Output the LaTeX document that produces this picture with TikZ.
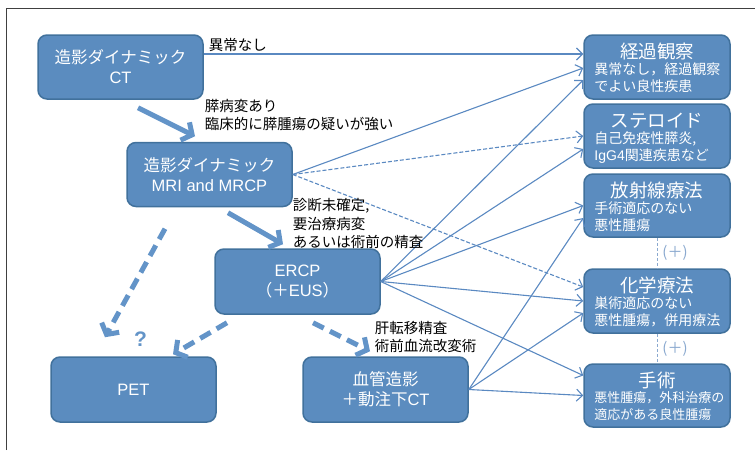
\documentclass[tikz,border=0pt]{standalone}
\usepackage{fontspec}
\setmainfont{Noto Sans CJK JP}
\newfontfamily\lat{Liberation Sans}
\usetikzlibrary{arrows.meta,calc}
\definecolor{boxfill}{HTML}{5B8CBF}
\definecolor{boxline}{HTML}{41719C}
\definecolor{arrowc}{HTML}{5A89C1}
\definecolor{thickc}{HTML}{6394C8}
\definecolor{pluscol}{HTML}{8AA9CF}
\definecolor{framec}{HTML}{404040}
\begin{document}
\begin{tikzpicture}[x=1pt,y=-1pt,
  box/.style={draw=boxline, fill=boxfill, line width=1.5pt, rounded corners=9pt,
    minimum width=165pt, minimum height=64pt, text=white,
    font=\fontsize{16.5}{20}\selectfont, align=center, inner sep=0pt},
  rbox/.style={box, minimum width=146pt},
  rtitle/.style={text=white, font=\fontsize{18.5}{20}\selectfont, inner sep=0pt},
  rsub/.style={text=white, font=\fontsize{14}{17}\selectfont, align=left, inner sep=0pt, anchor=north west},
  thin/.style={draw=arrowc, line width=1.1pt, -{Straight Barb[length=6pt,width=12pt]}},
  thindash/.style={thin, dash pattern=on 4pt off 2pt},
  thick/.style={draw=thickc, line width=5pt, -{Straight Barb[length=8pt,width=20pt]}},
  thickdash/.style={thick, dash pattern=on 12pt off 7pt},
  lab/.style={font=\fontsize{14.5}{18.5}\selectfont, align=left, inner sep=0pt, anchor=north west},
  plusdash/.style={draw=pluscol, line width=1pt, dash pattern=on 3pt off 2pt},
  pluslab/.style={text=pluscol, font=\fontsize{15}{16}\selectfont, inner sep=0pt},
]
\useasboundingbox (0,0) rectangle (755,450);
\draw[framec, line width=0.8pt] (6,450) -- (6,8) -- (755,8);

% left boxes
\node[box] (ct) at (120.5,67) {造影ダイナミック\\{\lat CT}};
\node[box] (mri) at (209.5,174.5) {造影ダイナミック\\{\lat MRI and MRCP}};
\node[box, minimum height=65pt] (ercp) at (297.5,281.5) {{\lat ERCP}\\（＋{\lat EUS}）};
\node[box, minimum height=65pt] (pet) at (133.5,389.5) {{\lat PET}};
\node[box, minimum height=65pt] (angio) at (385.5,389.5) {血管造影\\＋動注下{\lat CT}};

% right boxes
\node[rbox] (keika) at (657,67) {};
\node[rbox] (steroid) at (657,136) {};
\node[rbox, minimum height=63pt] (rad) at (657,205.5) {};
\node[rbox] (chemo) at (657,301) {};
\node[rbox, minimum height=63pt] (surg) at (657,395.5) {};

\node[rtitle] (t1) at ([yshift=-17pt]keika.north) {経過観察};
\node[rsub] (s1) at ([xshift=11pt,yshift=-28pt]keika.north west) {異常なし，経過観察\\でよい良性疾患};
\node[rtitle] (t2) at ([yshift=-17pt]steroid.north) {ステロイド};
\node[rsub] (s2) at ([xshift=11pt,yshift=-28pt]steroid.north west) {自己免疫性膵炎,\\{\lat IgG4}関連疾患など};
\node[rtitle] (t3) at ([yshift=-17pt]rad.north) {放射線療法};
\node[rsub] (s3) at ([xshift=11pt,yshift=-28pt]rad.north west) {手術適応のない\\悪性腫瘍};
\node[rtitle] (t4) at ([yshift=-17pt]chemo.north) {化学療法};
\node[rsub] (s4) at ([xshift=11pt,yshift=-28pt]chemo.north west) {巣術適応のない\\悪性腫瘍，併用療法};
\node[rtitle] (t5) at ([yshift=-17pt]surg.north) {手術};
\node[rsub, font=\fontsize{13}{17}\selectfont] (s5) at ([xshift=11pt,yshift=-28pt]surg.north west) {悪性腫瘍，外科治療の\\適応がある良性腫瘍};

% (+) connectors
\draw[plusdash] (rad.south) -- (chemo.north);
\draw[plusdash] (chemo.south) -- (surg.north);
\node[pluslab] (p1) at ($(rad.south)!0.5!(chemo.north)+(18,0)$) {(＋)};
\node[pluslab] (p2) at ($(chemo.south)!0.5!(surg.north)+(18,0)$) {(＋)};

% thin arrows
\draw[thin] ([yshift=13pt]ct.east) -- ([yshift=13pt]keika.west);
\draw[thin] (mri.east) -- ([yshift=-1pt]keika.west);
\draw[thindash] (mri.east) -- (steroid.west);
\draw[thindash] (mri.east) -- ([yshift=14pt]chemo.west);
\draw[thin] (ercp.east) -- ([yshift=-13pt]keika.west);
\draw[thin] (ercp.east) -- ([yshift=-13pt]steroid.west);
\draw[thin] (ercp.east) -- (rad.west);
\draw[thin] (ercp.east) -- (chemo.west);
\draw[thin] (ercp.east) -- ([yshift=20pt]surg.west);
\draw[thin] (angio.east) -- ([yshift=-12.5pt]rad.west);
\draw[thin] (angio.east) -- ([yshift=-12pt]chemo.west);
\draw[thin] (angio.east) -- (surg.west);

% thick arrows
\draw[thick] ([xshift=17.5pt,yshift=-8pt]ct.south) -- ([xshift=-14.5pt,yshift=5.5pt]mri.north);
\draw[thick] ([xshift=18.5pt,yshift=-5.5pt]mri.south) -- ([xshift=-14.5pt,yshift=4pt]ercp.north);
\draw[thickdash] ([xshift=-44.5pt,yshift=-21.5pt]mri.south) -- ([xshift=-28.5pt,yshift=19pt]pet.north);
\draw[thickdash] ([xshift=-70.5pt,yshift=-8pt]ercp.south) -- ([xshift=39.5pt,yshift=2pt]pet.north);
\draw[thickdash] ([xshift=15.5pt,yshift=-8pt]ercp.south) -- ([xshift=-15.5pt,yshift=5pt]angio.north);

% labels
\node[lab, anchor=west] (l1) at ([xshift=5pt,yshift=22pt]ct.east) {異常なし};
\node[lab] (l2) at ([xshift=1pt,yshift=1pt]ct.south east) {膵病変あり\\臨床的に膵腫瘍の疑いが強い};
\node[lab] (l3) at ([yshift=9pt]mri.south east) {診断未確定,\\要治療病変\\あるいは術前の精査};
\node[lab] (l4) at ([xshift=-6pt,yshift=-6pt]ercp.south east) {肝転移精査\\術前血流改変術};
\node[text=thickc, font=\lat\bfseries\fontsize{21}{22}\selectfont, inner sep=0pt] (q) at ([xshift=7pt,yshift=17pt]pet.north) {?};
\end{tikzpicture}
\end{document}
